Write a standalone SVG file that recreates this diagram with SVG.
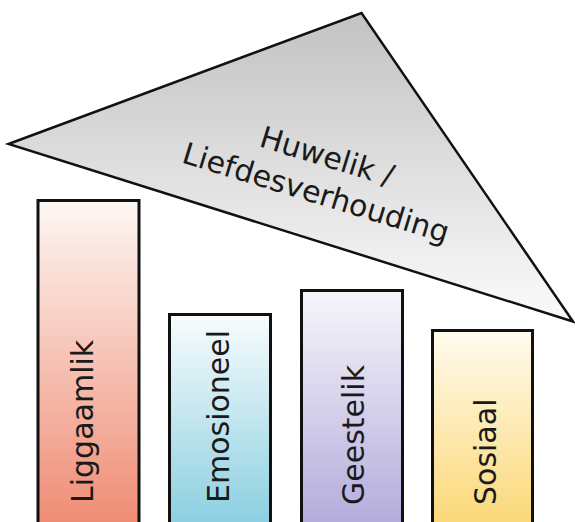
<svg xmlns="http://www.w3.org/2000/svg" width="575" height="522" viewBox="0 0 575 522">
  <style>
    .bar { stroke: #111; stroke-width: 3; }
    .tri { stroke: #111; stroke-width: 2.5; stroke-linejoin: miter; }
    .lbl { font-family: "DejaVu Sans", "Liberation Sans", sans-serif; font-size: 30px; fill: #1a1a1a; }
  </style>
  <defs>
    <linearGradient id="gTri" gradientUnits="userSpaceOnUse" x1="0" y1="12" x2="0" y2="322">
      <stop offset="0" stop-color="#c2c2c2"/>
      <stop offset="1" stop-color="#fbfbfb"/>
    </linearGradient>
    <linearGradient id="gRed" x1="0" y1="0" x2="0" y2="1">
      <stop offset="0" stop-color="#fdf7f3"/>
      <stop offset="1" stop-color="#ef8a72"/>
    </linearGradient>
    <linearGradient id="gBlue" x1="0" y1="0" x2="0" y2="1">
      <stop offset="0" stop-color="#f8fcfd"/>
      <stop offset="1" stop-color="#86cddf"/>
    </linearGradient>
    <linearGradient id="gPurple" x1="0" y1="0" x2="0" y2="1">
      <stop offset="0" stop-color="#f7f6fb"/>
      <stop offset="1" stop-color="#b1aadb"/>
    </linearGradient>
    <linearGradient id="gYellow" x1="0" y1="0" x2="0" y2="1">
      <stop offset="0" stop-color="#fffbee"/>
      <stop offset="1" stop-color="#fbd774"/>
    </linearGradient>
  </defs>
  <rect width="575" height="522" fill="#ffffff"/>

  <g id="roof">
    <polygon class="tri" points="8.5,144 361.5,13 573,321.5" fill="url(#gTri)"/>
    <g transform="translate(318.5,184.5) rotate(17)">
      <text class="lbl" x="0" y="-19" text-anchor="middle">Huwelik /</text>
      <text class="lbl" x="0" y="19" text-anchor="middle">Liefdesverhouding</text>
    </g>
  </g>

  <g id="pillar-liggaamlik">
    <rect class="bar" x="38" y="200.5" width="101" height="330" fill="url(#gRed)"/>
    <text class="lbl" transform="translate(93,503) rotate(-90)">Liggaamlik</text>
  </g>
  <g id="pillar-emosioneel">
    <rect class="bar" x="169.5" y="314.5" width="101" height="220" fill="url(#gBlue)"/>
    <text class="lbl" transform="translate(229,503) rotate(-90)">Emosioneel</text>
  </g>
  <g id="pillar-geestelik">
    <rect class="bar" x="301.5" y="290.5" width="101" height="240" fill="url(#gPurple)"/>
    <text class="lbl" transform="translate(364,505) rotate(-90)">Geestelik</text>
  </g>
  <g id="pillar-sosiaal">
    <rect class="bar" x="432.5" y="330.5" width="100" height="200" fill="url(#gYellow)"/>
    <text class="lbl" transform="translate(496,505) rotate(-90)">Sosiaal</text>
  </g>

  <g id="connectors"></g>
</svg>
